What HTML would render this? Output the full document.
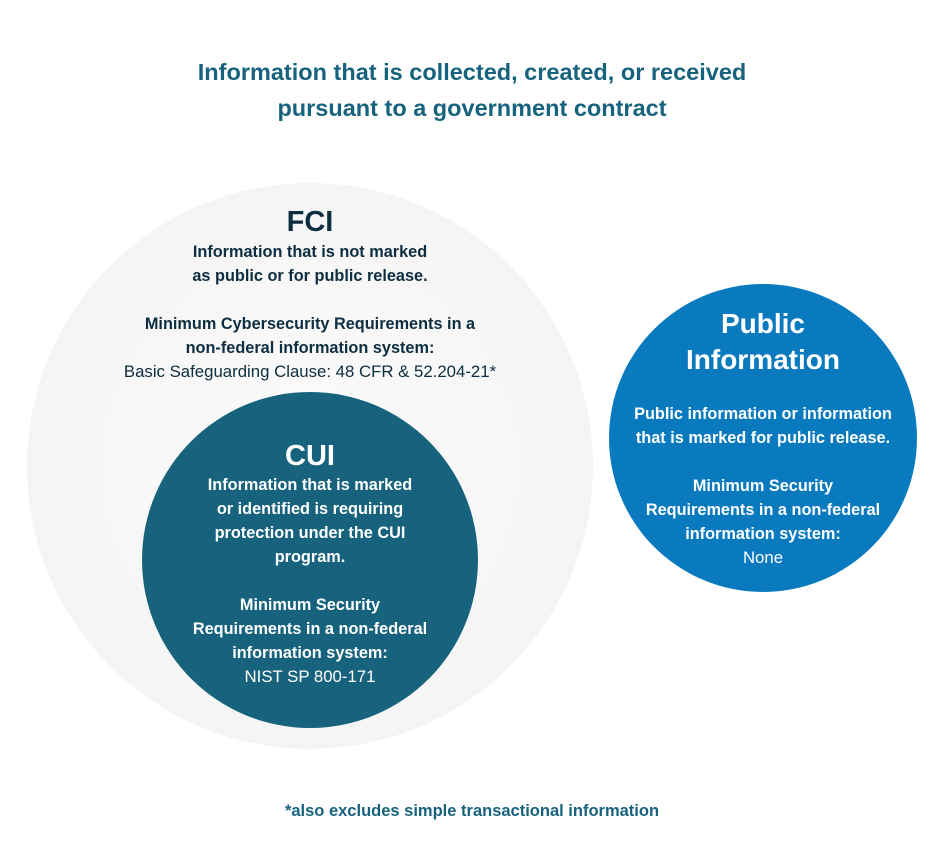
<!DOCTYPE html>
<html><head><style>
html,body{margin:0;padding:0;background:#fff;}
body{width:945px;height:863px;position:relative;overflow:hidden;font-family:"Liberation Sans",sans-serif;font-weight:bold;}
.c{position:absolute;border-radius:50%;}
.t{position:absolute;text-align:center;white-space:nowrap;transform:translateX(-50%);}
.n{font-weight:normal}
</style></head><body>
<div class="t" style="left:472px;top:54px;font-size:23.5px;line-height:36px;color:#17627c;">Information that is collected, created, or received<br>pursuant to a government contract</div>

<div class="c" style="left:27px;top:183px;width:566px;height:566px;background:radial-gradient(circle at 50% 50%,#fbfbfb 0%,#f6f6f6 60%,#f0f0f0 100%);"></div>
<div class="c" style="left:142px;top:392px;width:336px;height:336px;background:#17627c;"></div>
<div class="c" style="left:609px;top:284px;width:308px;height:308px;background:#0a7abf;"></div>

<div class="t" style="left:310px;top:202px;font-size:29px;line-height:40px;color:#0d2d40;">FCI</div>
<div class="t" style="left:310px;top:240px;font-size:16.3px;line-height:24px;color:#0d2d40;">Information that is not marked<br>as public or for public release.<br><br>Minimum Cybersecurity Requirements in a<br>non-federal information system:<br><span class="n" style="font-size:16.8px">Basic Safeguarding Clause: 48 CFR &amp; 52.204-21*</span></div>

<div class="t" style="left:310px;top:436px;font-size:29px;line-height:40px;color:#fff;">CUI</div>
<div class="t" style="left:310px;top:473px;font-size:16.3px;line-height:24px;color:#fff;">Information that is marked<br>or identified is requiring<br>protection under the CUI<br>program.<br><br>Minimum Security<br>Requirements in a non-federal<br>information system:<br><span class="n" style="font-size:16.8px">NIST SP 800-171</span></div>

<div class="t" style="left:763px;top:306px;font-size:28px;line-height:36px;color:#fff;">Public<br>Information</div>
<div class="t" style="left:763px;top:402px;font-size:16.3px;line-height:24px;color:#fff;">Public information or information<br>that is marked for public release.<br><br>Minimum Security<br>Requirements in a non-federal<br>information system:<br><span class="n" style="font-size:16.8px">None</span></div>

<div class="t" style="left:472px;top:800px;font-size:16.5px;line-height:22px;color:#17627c;">*also excludes simple transactional information</div>
</body></html>
